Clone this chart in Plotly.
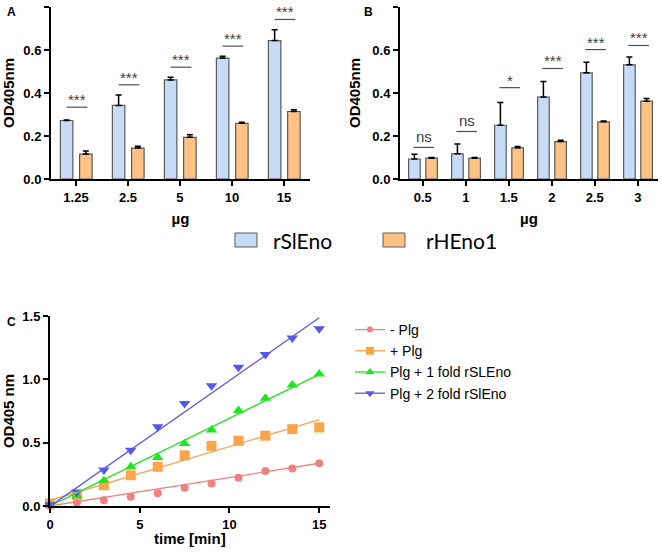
import plotly.graph_objects as go

# ---------------- data ----------------
doses_A = ["1.25", "2.5", "5", "10", "15"]
A_rSlEno = [0.272, 0.342, 0.461, 0.562, 0.644]
A_rSlEno_err = [0.003, 0.049, 0.012, 0.009, 0.050]
A_rHEno1 = [0.116, 0.144, 0.194, 0.259, 0.314]
A_rHEno1_err = [0.014, 0.008, 0.012, 0.005, 0.008]
A_sig = ["***", "***", "***", "***", "***"]
A_sig_y = [0.334, 0.438, 0.520, 0.618, 0.742]

doses_B = ["0.5", "1", "1.5", "2", "2.5", "3"]
B_rSlEno = [0.093, 0.117, 0.250, 0.381, 0.494, 0.531]
B_rSlEno_err = [0.022, 0.046, 0.106, 0.073, 0.049, 0.036]
B_rHEno1 = [0.097, 0.097, 0.145, 0.174, 0.266, 0.362]
B_rHEno1_err = [0.003, 0.003, 0.006, 0.006, 0.004, 0.012]
B_sig = ["ns", "ns", "*", "***", "***", "***"]
B_sig_y = [0.147, 0.221, 0.425, 0.514, 0.602, 0.621]

bar_series = ["rSlEno", "rHEno1"]

time_min = [0, 1.5, 3, 4.5, 6, 7.5, 9, 10.5, 12, 13.5, 15]
minus_plg = [0.0, 0.030, 0.045, 0.074, 0.100, 0.145, 0.177, 0.224, 0.277, 0.296, 0.338]
plus_plg = [0.020, 0.085, 0.164, 0.243, 0.310, 0.400, 0.475, 0.515, 0.555, 0.607, 0.620]
one_fold = [0.010, 0.080, 0.200, 0.310, 0.383, 0.494, 0.600, 0.753, 0.850, 0.956, 1.043]
two_fold = [0.010, 0.110, 0.285, 0.440, 0.626, 0.810, 0.950, 1.096, 1.196, 1.326, 1.400]
series_C_names = ["- Plg", "+ Plg", "Plg + 1 fold rSLEno", "Plg + 2 fold rSlEno"]
fit_intercept = [0.0, 0.045, 0.0, -0.003]
fit_slope = [0.0225, 0.0424, 0.0693, 0.0993]
fit_t = [0, 15]

# ---------------- styles ----------------
W, H = 662, 553
BLUE_FILL = "#C6DBF5"
ORANGE_FILL = "#FFC184"
OUTLINE = "#5A5A5A"
C_COLORS = ["#F28080", "#FBA44C", "#1EE61E", "#5656F0"]
C_SYMBOLS = ["circle", "square", "triangle-up", "triangle-down"]
C_SIZES = [8, 10, 10, 10]
FONT = "Liberation Sans, Arial"
TICKFONT = dict(family=FONT, size=13, color="black", weight="bold")
TITLEFONT = dict(family=FONT, size=15, color="black", weight="bold")

def px_x(p):
    return p / W

def px_y(p):
    return (H - p) / H

fig = go.Figure()

def add_bars(cats, blue, blue_err, orange, orange_err, xa, ya, width, off_b, off_o):
    idx = list(range(len(cats)))
    fig.add_trace(go.Bar(
        x=idx, y=blue, width=width, offset=off_b, name=bar_series[0],
        marker=dict(color=BLUE_FILL, line=dict(color=OUTLINE, width=1.2)),
        error_y=dict(type="data", array=blue_err, arrayminus=[0] * len(cats), symmetric=False,
                     color="black", thickness=1.5, width=3),
        xaxis=xa, yaxis=ya, showlegend=False))
    fig.add_trace(go.Bar(
        x=idx, y=orange, width=width, offset=off_o, name=bar_series[1],
        marker=dict(color=ORANGE_FILL, line=dict(color=OUTLINE, width=1.2)),
        error_y=dict(type="data", array=orange_err, arrayminus=[0] * len(cats), symmetric=False,
                     color="black", thickness=1.5, width=3),
        xaxis=xa, yaxis=ya, showlegend=False))

add_bars(doses_A, A_rSlEno, A_rSlEno_err, A_rHEno1, A_rHEno1_err, "x", "y", 0.24, -0.30, 0.07)
add_bars(doses_B, B_rSlEno, B_rSlEno_err, B_rHEno1, B_rHEno1_err, "x2", "y2", 0.27, -0.33, 0.07)

shapes = []
annotations = []

def add_sig(sig, sig_y, xref, yref, half):
    for i, (s, yv) in enumerate(zip(sig, sig_y)):
        shapes.append(dict(type="line", xref=xref, yref=yref, x0=i + 0.02 - half, x1=i + 0.02 + half,
                           y0=yv, y1=yv, line=dict(color="#505050", width=1.2)))
        annotations.append(dict(xref=xref, yref=yref, x=i + 0.02, y=yv, text=s, showarrow=False,
                                yanchor="bottom", yshift=-3 if s != "ns" else 0,
                                font=dict(family=FONT, size=15, color="#404040")))

add_sig(A_sig, A_sig_y, "x", "y", 0.2)
add_sig(B_sig, B_sig_y, "x2", "y2", 0.24)

# shared legend for panels A and B (boxes + text)
for name, fill, bx, tx in zip(bar_series, [BLUE_FILL, ORANGE_FILL], [235, 383], [271, 424]):
    shapes.append(dict(type="rect", xref="paper", yref="paper",
                       x0=px_x(bx), x1=px_x(bx + 22), y0=px_y(247), y1=px_y(233),
                       fillcolor=fill, line=dict(color=OUTLINE, width=1)))
    annotations.append(dict(xref="paper", yref="paper", x=px_x(tx), y=px_y(240), text=name,
                            showarrow=False, xanchor="left", yanchor="middle",
                            font=dict(family="Lato, Carlito, Calibri", size=21, color="black")))

# ---- panel C ----
for name, vals, col, sym, sz in zip(series_C_names, [minus_plg, plus_plg, one_fold, two_fold],
                                   C_COLORS, C_SYMBOLS, C_SIZES):
    fig.add_trace(go.Scatter(x=time_min, y=vals, mode="markers", name=name,
                             marker=dict(color=col, symbol=sym, size=sz),
                             xaxis="x3", yaxis="y3", showlegend=False, cliponaxis=False))
for name, a, b, col in zip(series_C_names, fit_intercept, fit_slope, C_COLORS):
    fig.add_trace(go.Scatter(x=fit_t, y=[a + b * t for t in fit_t], mode="lines",
                             line=dict(color=col, width=1.3), xaxis="x3", yaxis="y3",
                             showlegend=False, hoverinfo="skip", cliponaxis=False))
for name, col, sym, sz in zip(series_C_names, C_COLORS, C_SYMBOLS, C_SIZES):
    fig.add_trace(go.Scatter(x=[None], y=[None], mode="lines+markers", name=name,
                             marker=dict(color=col, symbol=sym, size=sz - 2),
                             line=dict(color=col, width=1.3),
                             xaxis="x3", yaxis="y3", legend="legend"))

axis_common = dict(showline=True, linecolor="black", linewidth=2, ticks="outside",
                   tickcolor="black", tickwidth=2, ticklen=5, showgrid=False, zeroline=False,
                   tickfont=TICKFONT, automargin=False)

fig.update_layout(
    width=W, height=H, margin=dict(l=0, r=0, t=0, b=0, autoexpand=False),
    paper_bgcolor="white", plot_bgcolor="white",
    barmode="overlay",
    xaxis=dict(domain=[px_x(51), px_x(310)], range=[-0.48, 4.5], tickmode="array",
               tickvals=list(range(len(doses_A))), ticktext=doses_A, anchor="y",
               title=dict(text="µg", standoff=10, font=TITLEFONT), **axis_common),
    yaxis=dict(domain=[px_y(179), px_y(7)], range=[0, 0.8], dtick=0.2, tickformat=".1f",
               anchor="x", title=dict(text="OD405nm", standoff=8, font=TITLEFONT), **axis_common),
    xaxis2=dict(domain=[px_x(400), px_x(658)], range=[-0.53, 5.47], tickmode="array",
                tickvals=list(range(len(doses_B))), ticktext=doses_B, anchor="y2",
                title=dict(text="µg", standoff=10, font=TITLEFONT), **axis_common),
    yaxis2=dict(domain=[px_y(179), px_y(7)], range=[0, 0.8], dtick=0.2, tickformat=".1f",
                anchor="x2", title=dict(text="OD405nm", standoff=8, font=TITLEFONT), **axis_common),
    xaxis3=dict(domain=[px_x(50), px_x(330)], range=[0, 15.6], tickvals=[0, 5, 10, 15],
                anchor="y3", **axis_common),
    yaxis3=dict(domain=[px_y(506), px_y(316)], range=[0, 1.5], dtick=0.5, tickformat=".1f",
                anchor="x3", title=dict(text="OD405 nm", standoff=8, font=TITLEFONT), **axis_common),
    legend=dict(x=px_x(350), y=px_y(314), xanchor="left", yanchor="top",
                font=dict(family=FONT, size=14, color="black"), itemwidth=30,
                tracegroupgap=2, bgcolor="rgba(0,0,0,0)"),
)

# x-axis title of panel C (placed close to the tick labels, as in the original)
annotations.append(dict(xref="paper", yref="paper", x=px_x(190), y=px_y(538), text="time [min]",
                        showarrow=False, xanchor="center", yanchor="middle", font=TITLEFONT))

for txt, xp, yp in [("A", 5, 12), ("B", 362, 12), ("C", 5, 322)]:
    annotations.append(dict(xref="paper", yref="paper", x=px_x(xp), y=px_y(yp), text="<b>%s</b>" % txt,
                            showarrow=False, xanchor="left", yanchor="middle",
                            font=dict(family=FONT, size=12, color="black")))

fig.update_layout(shapes=shapes, annotations=annotations)

fig.write_html("out.html", config={"displayModeBar": False},
               post_script="document.body.style.margin='0';document.body.style.overflow='hidden';")
